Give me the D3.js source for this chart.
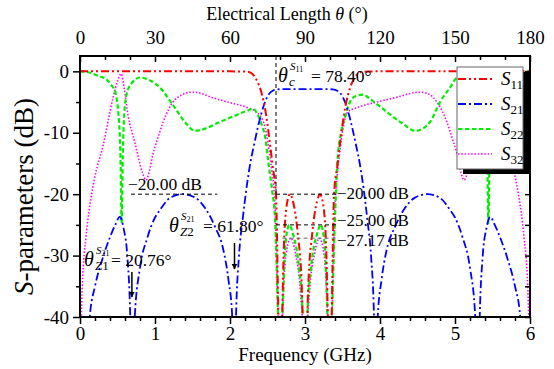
<!DOCTYPE html>
<html><head><meta charset="utf-8">
<script src="https://cdn.jsdelivr.net/npm/d3@7"></script>
<style>body{margin:0;background:#fff}svg{display:block}text{font-family:"Liberation Serif","Times New Roman",serif;fill:#000}</style>
</head><body>
<svg id="c" width="554" height="369"></svg>
<script>
// ---- data ----
const freqTicks = [0,1,2,3,4,5,6];
const dbTicks = [0,-10,-20,-30,-40];
const thetaTicks = [0,30,60,90,120,150,180];
const seriesNames = ["S11","S21","S22","S32"];
const seriesColors = ["#ff0000","#0000ff","#00ee00","#ff00ff"];

const s11Freq = [0,1,2,2.15,2.25,2.35,2.42,2.48,2.53,2.57,2.613,2.645,2.67,2.695,2.72,2.76,2.8,2.84,2.9,2.96,3.0,3.04,3.1,3.16,3.2,3.24,3.28,3.305,3.33,3.355,3.387,3.43,3.47,3.52,3.58,3.65,3.75,3.85,4,5,6];
const s11Db   = [0,0,0,-0.02,-0.1,-1.3,-3.5,-7,-11.5,-15.5,-20,-40,-55,-40,-28,-21.5,-20,-21.2,-26,-36,-55,-36,-26,-21.2,-20,-21.5,-28,-40,-55,-40,-20,-15.5,-11.5,-7,-3.5,-1.3,-0.1,-0.02,0,0,0];

const s21Freq = [0.05,0.13,0.2,0.3,0.4,0.47,0.53,0.58,0.63,0.67,0.7,0.73,0.8,0.9,1.0,1.07,1.2,1.37,1.54,1.67,1.8,1.91,1.98,2.03,2.05,2.08,2.12,2.17,2.22,2.27,2.32,2.37,2.42,2.47,2.52,2.57,2.63,2.7,3.3,3.37,3.43,3.48,3.53,3.58,3.63,3.68,3.73,3.78,3.83,3.88,3.92,3.95,3.97,4.02,4.09,4.2,4.33,4.46,4.63,4.8,4.93,5.0,5.1,5.2,5.27,5.3,5.33,5.37,5.42,5.47,5.53,5.6,5.7,5.8,5.87,5.95];
const s21Db   = [-60,-40,-35,-30.5,-27,-25,-23.7,-25.5,-30,-40,-60,-40,-32,-27,-23.8,-22.5,-20.6,-20,-20.6,-22.3,-25.3,-29,-34,-40,-60,-40,-30,-24,-19,-15,-12,-9.2,-6.8,-4.9,-3.7,-3.15,-2.95,-2.9,-2.9,-2.95,-3.15,-3.7,-4.9,-6.8,-9.2,-12,-15,-19,-24,-30,-40,-60,-40,-34,-29,-25.3,-22.3,-20.6,-20,-20.6,-22.5,-23.8,-27,-32,-40,-60,-40,-30,-25.5,-23.7,-25,-27,-30.5,-35,-40,-60];

const s22Freq = [0,0.1,0.17,0.26,0.36,0.42,0.47,0.5,0.52,0.54,0.555,0.57,0.59,0.62,0.69,0.8,0.92,1.07,1.24,1.43,1.53,1.65,1.87,2.05,2.23,2.31,2.37,2.42,2.47,2.51,2.56,2.6,2.64,2.67,2.7,2.74,2.79,2.84,2.92,2.97,3.0,3.03,3.08,3.16,3.21,3.26,3.3,3.33,3.36,3.4,3.43,3.48,3.53,3.6,3.68,3.77,3.9,4.09,4.3,4.47,4.6,4.67,4.8,4.93,5.03,5.15,5.28,5.36,5.41,5.43,5.445,5.46,5.48,5.53,5.6,5.7,5.8,5.9,6];
const s22Db   = [0,-0.1,-0.4,-0.8,-1.4,-2.3,-3.3,-5.5,-8.2,-14,-24.7,-14,-7,-3.8,-1.9,-1.0,-1.4,-2.7,-5.5,-8.7,-9.7,-9.4,-8.2,-7.3,-6.4,-6.1,-7.1,-8.6,-10.8,-14.7,-19.3,-24,-40,-55,-40,-28,-25,-26.5,-32,-40,-55,-40,-32,-26.5,-25,-28,-40,-55,-40,-24,-15,-10,-7.6,-5,-4.0,-3.8,-4.8,-6.6,-8.5,-9.7,-9.1,-8.2,-5,-2.7,-1.0,-0.6,-1.2,-3.5,-8,-14,-24.7,-14,-8,-3.5,-1.6,-0.8,-0.4,-0.1,0];

const s32Freq = [0,0.03,0.08,0.16,0.23,0.31,0.38,0.44,0.5,0.55,0.59,0.64,0.73,0.83,0.88,0.92,0.97,1.04,1.11,1.24,1.36,1.47,1.53,1.77,2.0,2.23,2.37,2.43,2.47,2.51,2.56,2.6,2.64,2.67,2.7,2.75,2.81,2.87,2.94,2.98,3.0,3.02,3.06,3.13,3.19,3.25,3.3,3.33,3.36,3.4,3.43,3.47,3.5,3.57,3.67,3.96,4.23,4.47,4.55,4.65,4.76,4.89,4.96,5.03,5.08,5.12,5.17,5.27,5.36,5.41,5.45,5.5,5.56,5.62,5.69,5.77,5.84,5.92,5.97,6];
const s32Db   = [-50,-35,-27,-19.6,-15.5,-12,-7.8,-4.3,-1.6,-0.4,-2.8,-7.1,-11.5,-16.4,-17.7,-16.5,-13.6,-10.8,-8.2,-5,-3.8,-3.4,-3.4,-4.3,-5.1,-5.9,-6.8,-7.8,-9.2,-12,-16.4,-22,-40,-55,-40,-29.5,-27.17,-29.5,-36,-45,-55,-45,-36,-29.5,-27.17,-29.5,-40,-55,-40,-22,-17,-12.5,-9.9,-6.6,-6,-5,-4.2,-3.45,-3.4,-3.7,-5,-8.2,-10.8,-13.6,-16.5,-17.7,-16.4,-11.5,-7.1,-2.8,-0.4,-1.6,-4.3,-7.8,-12,-15.5,-19.6,-27,-35,-50];

// annotation values
const thetaC = 78.40, thetaZ1 = 20.76, thetaZ2 = 61.80;
const levelLabels = ["\u221220.00 dB","\u221225.00 dB","\u221227.17 dB"];
const levelValues = [-20,-25,-27.17];

// ---- layout ----
const svg = d3.select("#c");
const L=80, R=530, T=56, B=317;
const x = d3.scaleLinear().domain([0,6]).range([L,R]);
const th = d3.scaleLinear().domain([0,180]).range([L,R]);
const y = d3.scaleLinear().domain([-40,2.5]).range([B,T]);

const defs = svg.append("defs");
defs.append("clipPath").attr("id","clip")
  .append("rect").attr("x",L).attr("y",T).attr("width",R-L).attr("height",B-T);
defs.append("marker").attr("id","arr").attr("viewBox","0 0 10 10").attr("refX",9).attr("refY",5)
  .attr("markerWidth",6).attr("markerHeight",7).attr("markerUnits","userSpaceOnUse").attr("orient","auto")
  .append("path").attr("d","M0,0 L10,5 L0,10 Z").attr("fill","#000");

const series = [
  {f:s32Freq, v:s32Db, c:seriesColors[3], dash:"1.5,1.8", w:1.6},
  {f:s22Freq, v:s22Db, c:seriesColors[2], dash:"4.5,2.5", w:2.2},
  {f:s21Freq, v:s21Db, c:seriesColors[1], dash:"8,3,2,3", w:1.8},
  {f:s11Freq, v:s11Db, c:seriesColors[0], dash:"8,3,2,3,2,3", w:2},
];
const line = d3.line().x(d=>x(d[0])).y(d=>y(d[1])).curve(d3.curveMonotoneX);
const gCurves = svg.append("g").attr("clip-path","url(#clip)");
series.forEach(s=>{
  gCurves.append("path").datum(s.f.map((f,i)=>[f,s.v[i]]))
    .attr("d",line).attr("fill","none").attr("stroke",s.c)
    .attr("stroke-width",s.w).attr("stroke-dasharray",s.dash);
});

// ---- annotation dashed lines ----
const gA = svg.append("g").attr("stroke","#000").attr("stroke-width",1).attr("stroke-dasharray","4,3").attr("fill","none");
const xc = th(thetaC);
gA.append("line").attr("x1",xc).attr("x2",xc).attr("y1",T).attr("y2",y(levelValues[0]));
gA.append("line").attr("x1",xc).attr("x2",x(3.45)).attr("y1",y(levelValues[0])).attr("y2",y(levelValues[0]));
gA.append("line").attr("x1",xc).attr("x2",x(3.45)).attr("y1",y(levelValues[1])).attr("y2",y(levelValues[1]));
gA.append("line").attr("x1",x(2.7)).attr("x2",x(3.45)).attr("y1",y(levelValues[2])).attr("y2",y(levelValues[2])).attr("stroke","#666");
gA.append("line").attr("x1",x(0.68)).attr("x2",x(1.83)).attr("y1",y(levelValues[0])).attr("y2",y(levelValues[0]));

const fs = 17.5;
svg.append("text").attr("x",128).attr("y",190).attr("font-size",fs).text(levelLabels[0]);
svg.append("text").attr("x",337).attr("y",199).attr("font-size",17).text(levelLabels[0]);
svg.append("text").attr("x",337).attr("y",226).attr("font-size",17).text(levelLabels[1]);
svg.append("text").attr("x",337).attr("y",246).attr("font-size",17).text(levelLabels[2]);

// theta labels
function thetaLabel(x0,yb,sup,subItalicPart,subRest,valueText,xv){
  svg.append("text").attr("x",x0).attr("y",yb).attr("font-size",20).attr("font-style","italic").text("\u03b8");
  const t1 = svg.append("text").attr("x",x0+12).attr("y",yb-12).attr("font-size",11);
  t1.append("tspan").attr("font-style","italic").text("S");
  t1.append("tspan").attr("font-size",8).attr("dy",2).text(sup);
  const t2 = svg.append("text").attr("x",x0+11).attr("y",yb+4).attr("font-size",13);
  t2.append("tspan").attr("font-style","italic").text(subItalicPart);
  if(subRest) t2.append("tspan").text(subRest);
  svg.append("text").attr("x",xv).attr("y",yb).attr("font-size",fs).text(valueText);
}
thetaLabel(278,82,"11","c","", "= " + thetaC.toFixed(2) + "\u00b0", 311);
thetaLabel(169,232,"21","Z","2", "= " + thetaZ2.toFixed(2) + "\u00b0", 203);
thetaLabel(84,266,"21","Z","1", "= " + thetaZ1.toFixed(2) + "\u00b0", 111);

// arrows
svg.append("line").attr("x1",th(thetaZ1)).attr("x2",th(thetaZ1)).attr("y1",272).attr("y2",297)
  .attr("stroke","#000").attr("stroke-width",1.5).attr("marker-end","url(#arr)");
svg.append("line").attr("x1",th(thetaZ2)).attr("x2",th(thetaZ2)).attr("y1",243).attr("y2",269)
  .attr("stroke","#000").attr("stroke-width",1.5).attr("marker-end","url(#arr)");

// ---- legend ----
const lg = svg.append("g");
lg.append("rect").attr("x",463).attr("y",72).attr("width",66).attr("height",102).attr("fill","#000");
lg.append("rect").attr("x",457).attr("y",67).attr("width",66).attr("height",102).attr("fill","#fff").attr("stroke","#666").attr("stroke-width",1);
const legendOrder = [3,2,1,0];
seriesNames.forEach((n,i)=>{
  const s = series[legendOrder[i]];
  const yy = 79 + i*25;
  lg.append("line").attr("x1",458).attr("x2",492).attr("y1",yy).attr("y2",yy)
    .attr("stroke",s.c).attr("stroke-width",s.w).attr("stroke-dasharray",s.dash);
  const t = lg.append("text").attr("x",501).attr("y",yy+6).attr("font-size",19);
  t.append("tspan").attr("font-style","italic").text(n[0]);
  t.append("tspan").attr("font-size",13).attr("dy",4).text(n.slice(1));
});

// ---- axes ----
function styleAxis(g){ g.select(".domain").remove(); g.selectAll("line").attr("stroke","#000").attr("stroke-width",1.5);
  g.selectAll("text").attr("font-family","Liberation Serif").attr("font-size",19).attr("fill","#000"); }
const fmt = d=>String(d);
svg.append("g").attr("transform",`translate(${L},0)`).call(d3.axisLeft(y).tickValues(dbTicks).tickSize(7).tickPadding(4).tickFormat(fmt)).call(styleAxis);
svg.append("g").attr("transform",`translate(${L},0)`).call(d3.axisLeft(y).tickValues(d3.range(-35,1,10)).tickSize(4).tickFormat("")).call(styleAxis);
svg.append("g").attr("transform",`translate(${R},0)`).call(d3.axisRight(y).tickValues(d3.range(-40,1,5)).tickSize(-5).tickFormat("")).call(styleAxis);
svg.append("g").attr("transform",`translate(0,${B})`).call(d3.axisBottom(x).tickValues(freqTicks).tickSize(7).tickPadding(3).tickFormat(fmt)).call(styleAxis);
svg.append("g").attr("transform",`translate(0,${B})`).call(d3.axisBottom(x).tickValues(d3.range(0.2,6,0.2).filter(v=>Math.abs(v-Math.round(v))>0.01)).tickSize(4).tickFormat("")).call(styleAxis);
svg.append("g").attr("transform",`translate(0,${T})`).call(d3.axisTop(th).tickValues(thetaTicks).tickSize(-6).tickPadding(12).tickFormat(fmt)).call(styleAxis);
svg.append("g").attr("transform",`translate(0,${T})`).call(d3.axisTop(th).tickValues(d3.range(10,180,10).filter(v=>v%30)).tickSize(-4).tickFormat("")).call(styleAxis);
svg.append("rect").attr("x",L).attr("y",T).attr("width",R-L).attr("height",B-T).attr("fill","none").attr("stroke","#000").attr("stroke-width",2);

// ---- titles ----
const tt = svg.append("text").attr("x",287).attr("y",20).attr("text-anchor","middle").attr("font-size",18);
tt.append("tspan").text("Electrical Length ");
tt.append("tspan").attr("font-style","italic").text("\u03b8");
tt.append("tspan").text(" (\u00b0)");
svg.append("text").attr("x",(L+R)/2).attr("y",361).attr("text-anchor","middle").attr("font-size",19).text("Frequency (GHz)");
const yl = svg.append("text").attr("transform",`translate(33,${(T+B)/2+10}) rotate(-90)`).attr("text-anchor","middle").attr("font-size",27);
yl.append("tspan").attr("font-style","italic").text("S");
yl.append("tspan").text("-parameters (dB)");
</script>
</body></html>
